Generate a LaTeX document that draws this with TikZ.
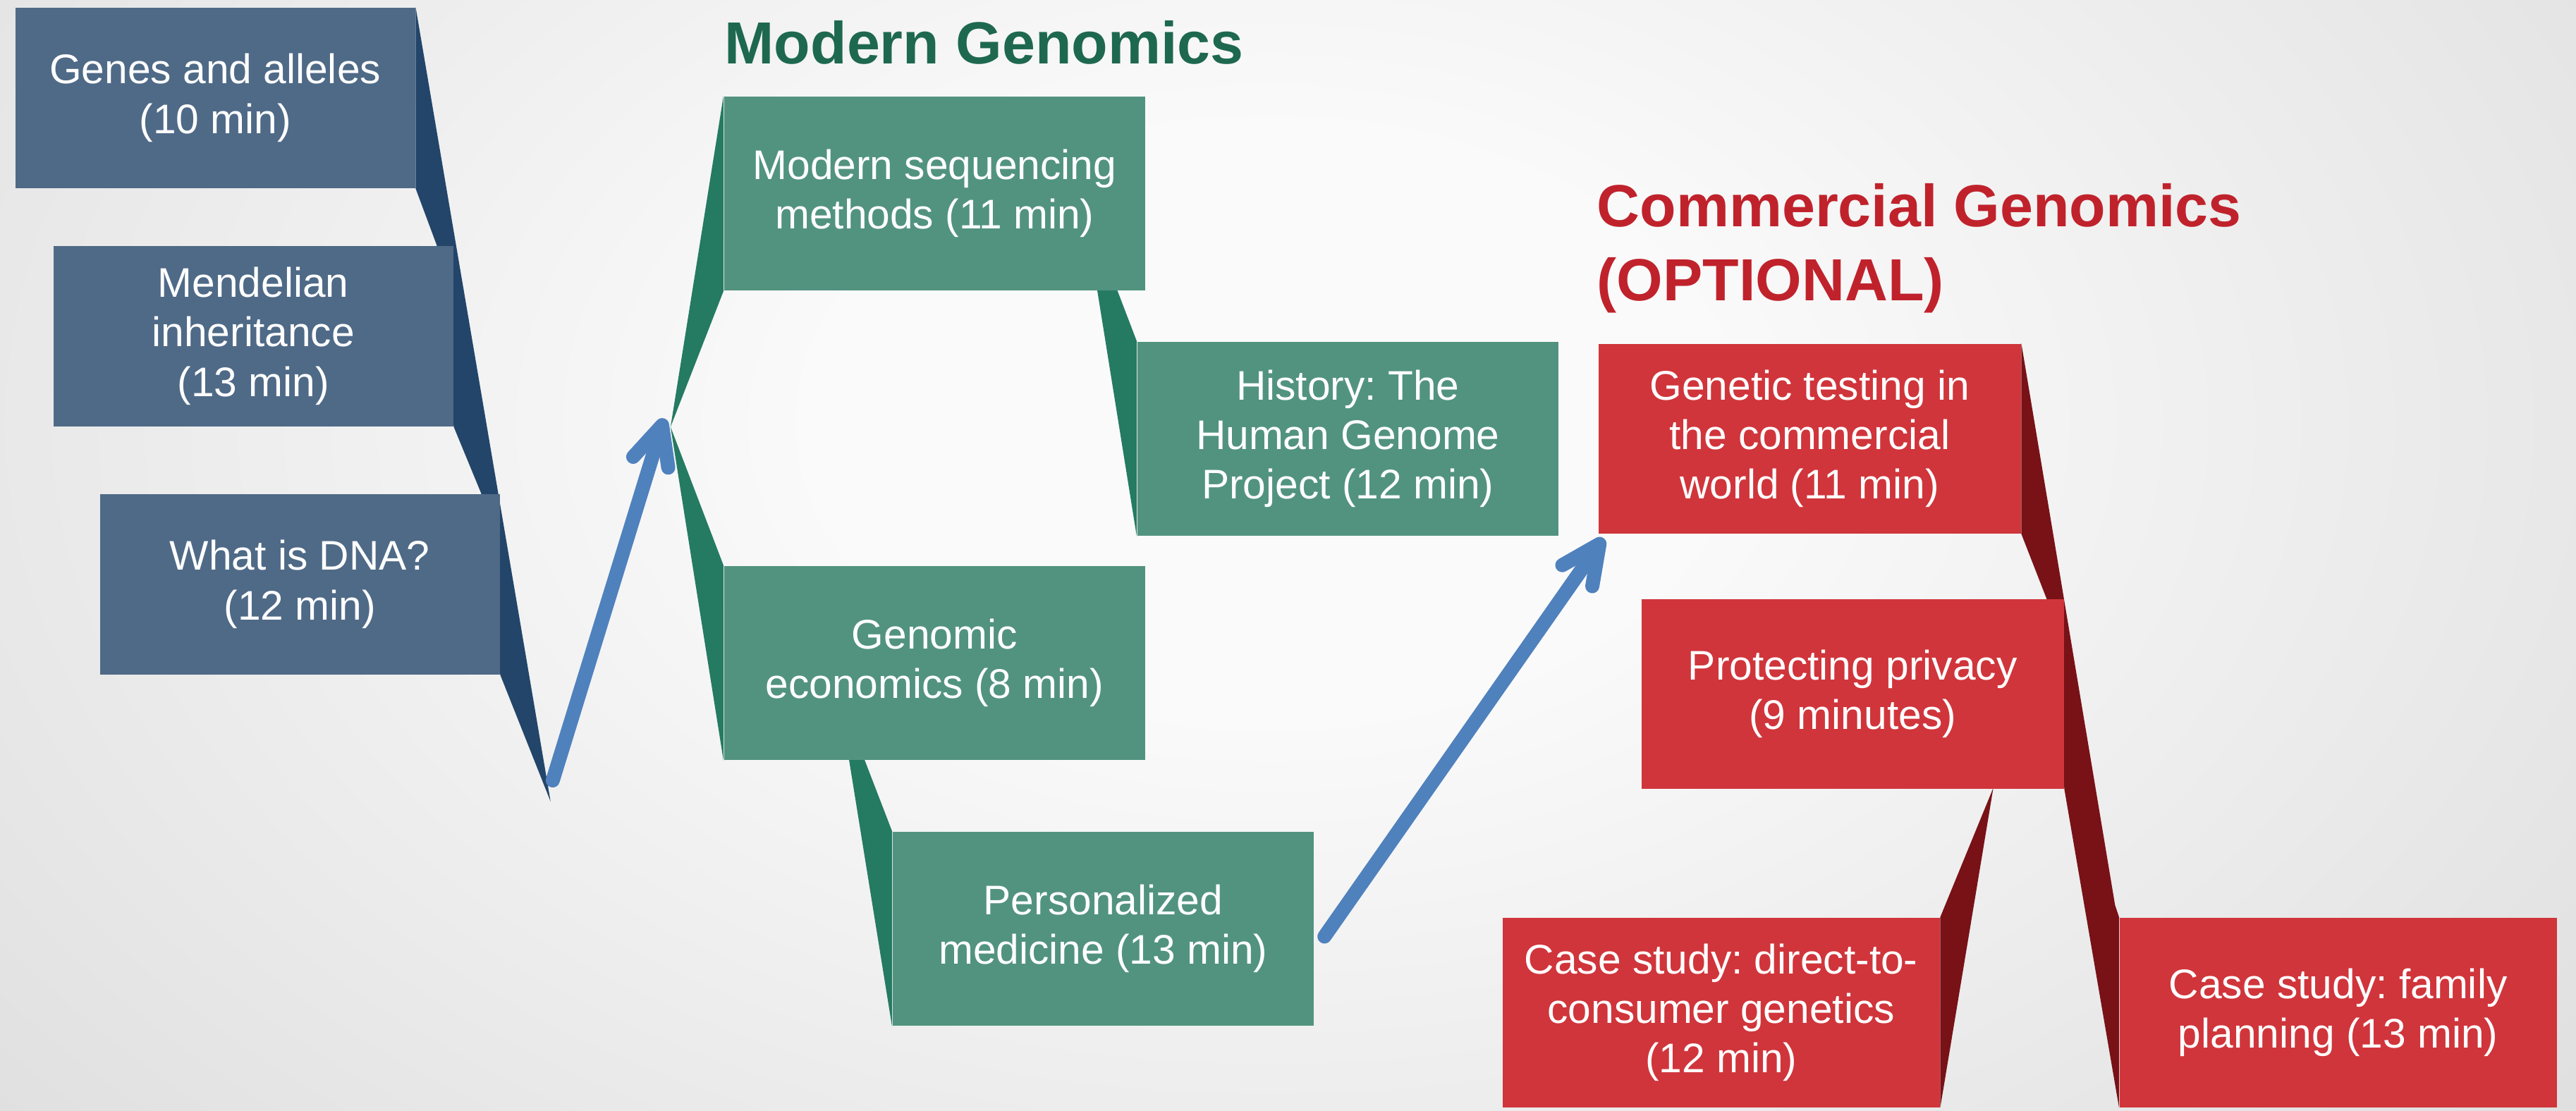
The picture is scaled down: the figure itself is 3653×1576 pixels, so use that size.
\documentclass[tikz,border=0pt]{standalone}
\usepackage{fontspec}
\setmainfont{Liberation Sans}
\usetikzlibrary{arrows.meta,calc,backgrounds}

\definecolor{bgedge}{RGB}{216,216,216}
\definecolor{bgmid}{RGB}{250,250,250}
\definecolor{basicblue}{RGB}{79,106,135}
\definecolor{basicdark}{RGB}{35,69,106}
\definecolor{modgreen}{RGB}{82,147,127}
\definecolor{moddark}{RGB}{37,122,98}
\definecolor{modtitle}{RGB}{30,104,80}
\definecolor{comred}{RGB}{208,53,59}
\definecolor{comdark}{RGB}{120,18,23}
\definecolor{comtitle}{RGB}{192,34,44}
\definecolor{linkblue}{RGB}{79,129,189}

\pgfdeclareradialshading{backdrop}{\pgfpoint{0bp}{0bp}}{color(0bp)=(bgmid); color(8bp)=(bgmid); color(36bp)=(bgedge); color(50bp)=(bgedge)}

\tikzset{
	topic/.style={anchor=north west, inner sep=0pt, align=center, text=white,
			font=\frenchspacing\fontsize{16.7}{20}\selectfont},
	basic/.style={topic, fill=basicblue, minimum width=56.7mm, minimum height=25.6mm},
	modern/.style={topic, fill=modgreen, minimum width=59.73mm, minimum height=27.56mm},
	commercial/.style={topic, fill=comred, minimum width=#1, minimum height=26.9mm},
	commercial/.default=59.9mm,
	heading/.style={inner sep=0pt, align=left, font=\bfseries\fontsize{24}{29.9}\selectfont},
	link/.style={draw=linkblue, line width=2mm, line cap=round,
			-{Straight Barb[round, length=5.5mm, width=5.2mm]}}
}

\begin{document}
\begin{tikzpicture}[x=0.1mm, y=-0.1mm]
	\useasboundingbox (0,0) rectangle (3653,1576);
	% Backdrop
	\begin{scope}[on background layer]
		\clip (0,0) rectangle (3653,1576);
		\shade[shading=backdrop] (-200,-700) rectangle (3800,1900);
	\end{scope}

	% Basics
	\node[basic] (genes) at (21,10) {Genes and alleles\\(10 min)};
	\node[basic] (mendel) at (75,348) {Mendelian\\inheritance\\(13 min)};
	\node[basic] (dna) at (141,700) {What is DNA?\\(12 min)};
	\coordinate (basictip) at (780.8,1137.1);

	% Modern Genomics
	\node[heading, text=modtitle, anchor=base west] (modhead) at (1027,91) {Modern Genomics};
	\node[modern] (seq) at (1026,136) {Modern sequencing\\methods (11 min)};
	\node[modern] (hgp) at (1612,484) {History: The\\Human Genome\\Project (12 min)};
	\node[modern] (econ) at (1026,802) {Genomic\\economics (8 min)};
	\node[modern] (pmed) at (1265,1179) {Personalized\\medicine (13 min)};
	\coordinate (modapex) at (950.9,605.6);

	% Commercial Genomics
	\node[heading, text=comtitle, anchor=north west] (comhead) at (2264,260) {Commercial Genomics\\(OPTIONAL)};
	\node[commercial] (gtest) at (2266,487) {Genetic testing in\\the commercial\\world (11 min)};
	\node[commercial] (privacy) at (2327,849) {Protecting privacy\\(9 minutes)};
	\node[commercial=62mm] (dtc) at (2130,1301) {Case study: direct-to-\\consumer genetics\\(12 min)};
	\node[commercial=62mm] (family) at (3005,1301) {Case study: family\\planning (13 min)};

	% Wedges behind the boxes
	\begin{scope}[on background layer]
		\fill[basicdark] (genes.north east) -- (basictip) -- (dna.south east)
			-- ($(dna.north east)+(-27,0)$) -- (mendel.south east)
			-- ($(mendel.north east)+(-24,0)$) -- (genes.south east) -- cycle;
		\fill[moddark] (seq.north west) -- (seq.south west) -- (modapex) -- cycle;
		\fill[moddark] (modapex) -- (econ.north west) -- (econ.south west) -- cycle;
		\fill[moddark] (1552.5,390) -- (hgp.south west) -- (hgp.north west) -- (1576.1,390) -- cycle;
		\fill[moddark] (1200.5,1056) -- (pmed.south west) -- (pmed.north west) -- (1217.6,1056) -- cycle;
		\fill[comdark] (gtest.north east) -- (2999.3,1283.8) -- (family.north west)
			-- (family.south west) -- (privacy.south east) -- (2910.3,870)
			-- (gtest.south east) -- cycle;
		\fill[comdark] (2826.7,1117.5) -- (dtc.north east) -- (dtc.south east) -- cycle;
	\end{scope}

	% Links
	\draw[link] ([shift={(3,-30)}]basictip) -- ([shift={(-9,-12)}]modapex);
	\draw[link] ([shift={(14.5,11)}]pmed.east) -- ([shift={(8,6)}]gtest.south west);
\end{tikzpicture}
\end{document}
